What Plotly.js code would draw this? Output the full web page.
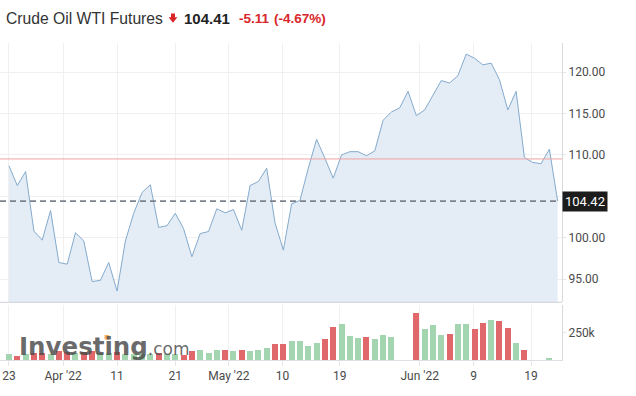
<!DOCTYPE html>
<html><head><meta charset="utf-8">
<script src="https://cdn.plot.ly/plotly-3.0.1.min.js"></script>
<style>html,body{margin:0;padding:0;background:#fff}#chart{width:636px;height:396px}</style>
</head><body><div id="chart"></div>
<script>
// ---- data ----
const tickPositions = [0, 6.5, 13, 20, 26.45, 32.9, 39.8, 49.4, 55.9, 62.8];
const tickLabels = ["23", "Apr '22", "11", "21", "May '22", "10", "19", "Jun '22", "9", "19"];
const prices = [
  108.7, 106.3, 108.0, 100.8, 99.7, 103.3, 97.0, 96.8, 100.6, 99.6,
  94.7, 94.85, 97.0, 93.55, 99.6, 102.95, 105.45, 106.4, 101.25, 101.45,
  102.95, 101.1, 97.7, 100.5, 100.75, 103.5, 103.0, 103.4, 100.9, 106.3,
  106.8, 108.4, 101.8, 98.5, 104.1, 104.5, 108.4, 111.9, 109.6, 107.2,
  110.0, 110.4, 110.4, 109.9, 110.5, 114.2, 115.2, 115.7, 117.7, 114.75,
  115.45, 117.25, 119.0, 118.7, 119.6, 122.2, 121.7, 120.9, 121.1, 119.1,
  115.45, 117.7, 109.7, 109.1, 108.95, 110.7, 104.42
];
const volumesK = [
  56, 37, 56, 65, 65, 56, 83, 74, 65, 74,
  83, 65, 65, 74, 56, 56, 51, 56, 65, 56,
  56, 49, 86, 93, 65, 93, 95, 80, 95, 86,
  93, 111, 143, 148, 176, 176, 130, 157, 194, 306,
  333, 222, 204, 213, 188, 231, 213, null, null, 435,
  287, 324, 231, 241, 333, 333, 287, 343, 370, 361,
  296, 157, 93, null, null, 21, null
];
const priceTicks = [95, 100, 105, 110, 115, 120];
const volumeTicks = [250];
const volumeTickLabels = ["250k"];
const prevClose = 109.52;
const lastPrice = 104.42;
const headline = {name: "Crude Oil WTI Futures", last: "104.41", change: "-5.11", pct: "(-4.67%)"};

// ---- layout helpers ----
const W = 636, H = 396, ML = 0, MR = 74, MT = 43, MB = 36;
const PW = W - ML - MR, PH = H - MT - MB;
const px = x => (x - ML) / PW;
const py = y => (H - MB - y) / PH;

const idx = prices.map((_, i) => i);
const volColors = prices.map((p, i) => (i === 0 || p >= prices[i - 1]) ? '#a2d5b0' : '#e0686a');

const RED = '#d9262b';
const tickFont = {family: 'Roboto, Arial, sans-serif', size: 12, color: '#4a4a4a'};

const traces = [
  {x: idx, y: prices, type: 'scatter', mode: 'lines', xaxis: 'x', yaxis: 'y',
   line: {color: '#84aacd', width: 1}, fill: 'tozeroy', fillcolor: '#e4ecf5', hoverinfo: 'skip'},
  {x: idx, y: volumesK, type: 'bar', xaxis: 'x', yaxis: 'y2', width: 0.72,
   marker: {color: volColors, line: {width: 0}}, hoverinfo: 'skip'}
];

const arrowPts = [[171,13.5],[175,13.5],[175,17.3],[177.4,17.3],[173,22.8],[168.6,17.3],[171,17.3]];
const arrowPath = 'M' + arrowPts.map(p => px(p[0]) + ',' + py(p[1])).join(' L') + ' Z';

const layout = {
  width: W, height: H,
  margin: {l: ML, r: MR, t: MT, b: MB, pad: 0},
  paper_bgcolor: '#fff', plot_bgcolor: '#fff',
  showlegend: false, bargap: 0,
  xaxis: {
    domain: [0, 1], anchor: 'y2', range: [-1.08, 66.52],
    tickmode: 'array', tickvals: tickPositions, ticktext: tickLabels,
    showgrid: true, gridcolor: '#f0f0f0', gridwidth: 1, zeroline: false,
    showline: true, linecolor: '#dcdfe4', linewidth: 1,
    ticks: 'outside', ticklen: 5, tickcolor: '#e6e6e6',
    tickfont: tickFont, fixedrange: true
  },
  yaxis: {
    domain: [py(302.3), 1], anchor: 'x', side: 'right', range: [92.19, 123.54],
    tickmode: 'array', tickvals: priceTicks, tickformat: '.2f',
    showgrid: true, gridcolor: '#f0f0f0', zeroline: false,
    showline: true, linecolor: '#d6d9de', linewidth: 1,
    ticks: 'outside', ticklen: 3, tickcolor: '#e6e6e6',
    tickfont: tickFont, fixedrange: true
  },
  yaxis2: {
    domain: [0, py(305)], anchor: 'x', side: 'right', range: [0, 503.7],
    tickmode: 'array', tickvals: volumeTicks, ticktext: volumeTickLabels,
    showgrid: false, zeroline: false,
    showline: true, linecolor: '#d6d9de', linewidth: 1,
    ticks: 'outside', ticklen: 3, tickcolor: '#e6e6e6',
    tickfont: tickFont, fixedrange: true
  },
  shapes: [
    {type: 'line', xref: 'paper', yref: 'paper', x0: 0, x1: 1, y0: py(302.3), y1: py(302.3),
     line: {color: '#cdd2d9', width: 1}},
    {type: 'line', xref: 'paper', yref: 'y', x0: 0, x1: 1, y0: prevClose, y1: prevClose,
     line: {color: '#f1a2a2', width: 1}},
    {type: 'line', xref: 'paper', yref: 'y', x0: 0, x1: 0.993, y0: lastPrice, y1: lastPrice,
     line: {color: '#7d838c', width: 1.6, dash: '6px,4px'}},
    {type: 'path', xref: 'paper', yref: 'paper', path: arrowPath,
     fillcolor: RED, line: {width: 0}},
    {type: 'rect', xref: 'paper', yref: 'paper', x0: px(104.5), x1: px(109), y0: py(339.5), y1: py(335),
     fillcolor: 'rgba(245,168,70,0.9)', line: {width: 0}, layer: 'above'}
  ],
  annotations: [
    {xref: 'paper', yref: 'paper', x: px(4), y: py(18), xanchor: 'left', yanchor: 'middle',
     text: headline.name, showarrow: false,
     font: {family: 'Liberation Sans, Arial, sans-serif', size: 15.7, color: '#333'}},
    {xref: 'paper', yref: 'paper', x: px(182), y: py(18), xanchor: 'left', yanchor: 'middle',
     text: '<b>' + headline.last + '</b>', showarrow: false,
     font: {family: 'Liberation Sans, Arial, sans-serif', size: 15, color: '#232323'}},
    {xref: 'paper', yref: 'paper', x: px(237), y: py(18.5), xanchor: 'left', yanchor: 'middle',
     text: '<b>' + headline.change + '</b>', showarrow: false,
     font: {family: 'Liberation Sans, Arial, sans-serif', size: 13.5, color: RED}},
    {xref: 'paper', yref: 'paper', x: px(272), y: py(18.5), xanchor: 'left', yanchor: 'middle',
     text: '<b>' + headline.pct + '</b>', showarrow: false,
     font: {family: 'Liberation Sans, Arial, sans-serif', size: 13.5, color: RED}},
    {xref: 'paper', yref: 'paper', x: px(17), y: py(346.5), xanchor: 'left', yanchor: 'middle',
     text: "<b>Investing</b><span style='font-size:17px'>.com</span>", showarrow: false,
     font: {family: 'DejaVu Sans, sans-serif', size: 24.5, color: 'rgba(72,72,72,0.82)'}},
    {xref: 'paper', yref: 'y', x: 1, y: lastPrice, xanchor: 'left', yanchor: 'middle',
     text: String(lastPrice.toFixed(2)), showarrow: false, bgcolor: '#1c1c1c', borderpad: 2,
     font: {family: 'Roboto, Arial, sans-serif', size: 13, color: '#fff'}}
  ]
};

Plotly.newPlot('chart', traces, layout, {staticPlot: true, displayModeBar: false});
</script>
</body></html>
